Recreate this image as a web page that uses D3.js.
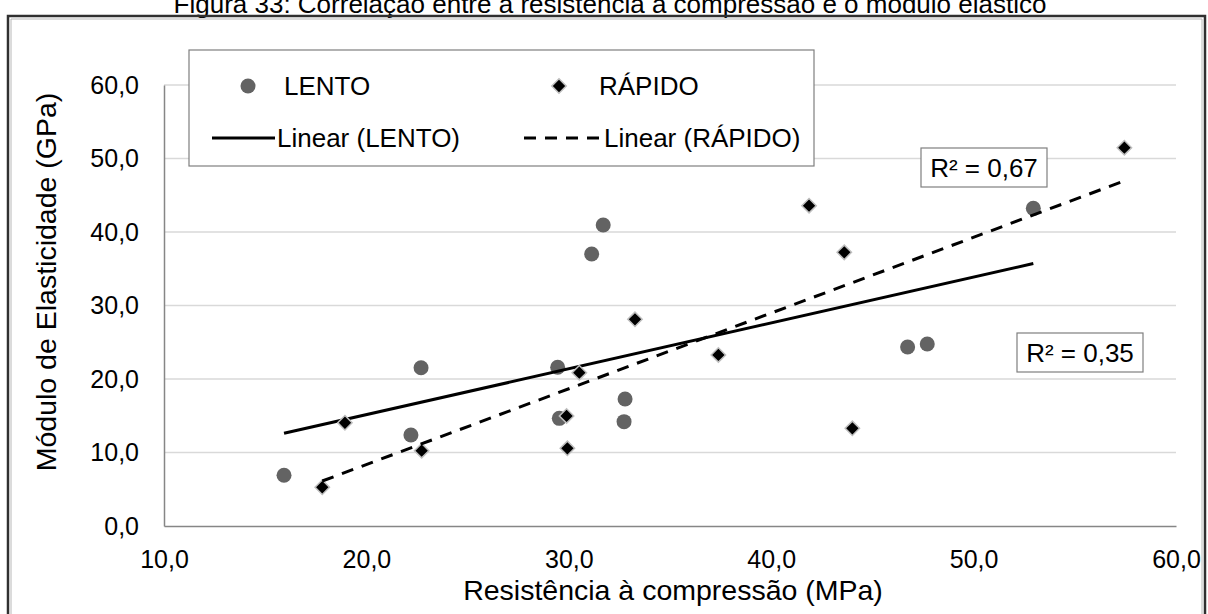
<!DOCTYPE html>
<html>
<head>
<meta charset="utf-8">
<script src="https://cdn.jsdelivr.net/npm/d3@7"></script>
<style>
body { margin: 0; background: #fff; }
svg { display: block; font-family: "Liberation Sans", Arial, sans-serif; }
</style>
</head>
<body>
<svg width="1208" height="614"></svg>
<script>
// values
var lentoX = [15.93, 22.20, 22.70, 29.45, 29.53, 31.13, 31.70, 32.73, 32.78, 46.74, 47.71, 52.95];
var lentoY = [6.90, 12.38, 21.54, 21.59, 14.65, 37.00, 40.95, 14.20, 17.28, 24.35, 24.76, 43.22];
var rapidoX = [17.82, 18.94, 22.73, 29.89, 29.93, 30.52, 33.27, 37.39, 41.87, 43.61, 44.01, 57.45];
var rapidoY = [5.27, 14.05, 10.25, 14.97, 10.57, 20.86, 28.12, 23.27, 43.58, 37.23, 13.29, 51.47];
var xTicks = [10, 20, 30, 40, 50, 60];
var yTicks = [0, 10, 20, 30, 40, 50, 60];
var seriesNames = ["LENTO", "RÁPIDO"];
var trendNames = ["Linear (LENTO)", "Linear (RÁPIDO)"];
var r2Labels = ["R² = 0,67", "R² = 0,35"];
var title = "Figura 33: Correlação entre a resistência à compressão e o módulo elástico";
var xTitle = "Resistência à compressão (MPa)";
var yTitle = "Módulo de Elasticidade (GPa)";

var svg = d3.select("svg");
var x = d3.scaleLinear().domain([10, 60]).range([164, 1176]);
var y = d3.scaleLinear().domain([0, 60]).range([526, 85]);
var fmt = function(v){ return d3.format(".1f")(v).replace(".", ","); };

// title (cut at the top of the page) and chart frame
svg.append("text").attr("x", 610).attr("y", 13)
	.attr("text-anchor", "middle").attr("font-size", 26).attr("fill", "#000")
	.text(title);
svg.append("path").attr("d", "M8,630 V16 H1205 V630")
	.attr("fill", "none").attr("stroke", "#303030").attr("stroke-width", 2.5);
svg.append("path").attr("d", "M11,630 V19 H1202 V630")
	.attr("fill", "none").attr("stroke", "#b8b8b8").attr("stroke-width", 1);

// gridlines
svg.append("g").selectAll("line").data(yTicks.slice(1))
	.enter().append("line")
	.attr("x1", x(10)).attr("x2", x(60))
	.attr("y1", function(d){ return y(d); }).attr("y2", function(d){ return y(d); })
	.attr("stroke", "#d9d9d9").attr("stroke-width", 1.5);

// axes
var gx = svg.append("g").attr("transform", "translate(0," + y(0) + ")")
	.call(d3.axisBottom(x).tickValues(xTicks).tickFormat(fmt).tickSize(0).tickPadding(24));
var gy = svg.append("g").attr("transform", "translate(" + x(10) + ",0)")
	.call(d3.axisLeft(y).tickValues(yTicks).tickFormat(fmt).tickSize(0).tickPadding(25));
gx.select(".domain").attr("stroke", "#868686").attr("stroke-width", 1.5);
gy.select(".domain").attr("stroke", "#868686").attr("stroke-width", 1.5);
svg.selectAll(".tick text").attr("font-size", 25).attr("fill", "#000")
	.attr("font-family", "Liberation Sans, Arial, sans-serif");

svg.append("text").attr("x", (x(10) + x(60)) / 2 + 3).attr("y", 600)
	.attr("text-anchor", "middle").attr("font-size", 28.5).text(xTitle);
svg.append("text").attr("transform", "translate(56,282) rotate(-90)")
	.attr("text-anchor", "middle").attr("font-size", 28.5).text(yTitle);

// least squares trend line, drawn between the smallest and largest x
function fit(xs, ys){
	var mx = d3.mean(xs), my = d3.mean(ys), sxy = 0, sxx = 0;
	for(var i=0; i<xs.length; i++){
		sxy += (xs[i]-mx)*(ys[i]-my);
		sxx += (xs[i]-mx)*(xs[i]-mx);
	}
	var b = sxy/sxx, a = my - b*mx;
	var x0 = d3.min(xs), x1 = d3.max(xs);
	return [[x0, a + b*x0], [x1, a + b*x1]];
}

var line = d3.line().x(function(d){ return x(d[0]); }).y(function(d){ return y(d[1]); });
var diamond = d3.symbol().type(d3.symbolSquare).size(104);

function circles(g, xs, ys){
	g.selectAll("circle").data(d3.range(xs.length)).enter().append("circle")
		.attr("cx", function(i){ return x(xs[i]); })
		.attr("cy", function(i){ return y(ys[i]); })
		.attr("r", 7.5).attr("fill", "#636363");
}
function diamonds(g, xs, ys){
	g.selectAll("path").data(d3.range(xs.length)).enter().append("path")
		.attr("d", diamond)
		.attr("transform", function(i){ return "translate(" + x(xs[i]) + "," + y(ys[i]) + ") rotate(45)"; })
		.attr("fill", "#000").attr("stroke", "#bfbfbf").attr("stroke-width", 1.5);
}

circles(svg.append("g"), lentoX, lentoY);
svg.append("path").attr("d", line(fit(lentoX, lentoY)))
	.attr("fill", "none").attr("stroke", "#000").attr("stroke-width", 3);
diamonds(svg.append("g"), rapidoX, rapidoY);
svg.append("path").attr("d", line(fit(rapidoX, rapidoY)))
	.attr("fill", "none").attr("stroke", "#000").attr("stroke-width", 3)
	.attr("stroke-dasharray", "12,9");

// legend
var lg = svg.append("g");
lg.append("rect").attr("x", 189).attr("y", 50).attr("width", 625).attr("height", 116)
	.attr("fill", "#fff").attr("stroke", "#7f7f7f").attr("stroke-width", 1.2);
lg.append("circle").attr("cx", 248).attr("cy", 86).attr("r", 7.5).attr("fill", "#636363");
lg.append("path").attr("d", diamond).attr("transform", "translate(559,86) rotate(45)")
	.attr("fill", "#000").attr("stroke", "#bfbfbf").attr("stroke-width", 1.5);
lg.append("line").attr("x1", 212).attr("x2", 275).attr("y1", 138).attr("y2", 138)
	.attr("stroke", "#000").attr("stroke-width", 3);
lg.append("line").attr("x1", 524).attr("x2", 602).attr("y1", 138).attr("y2", 138)
	.attr("stroke", "#000").attr("stroke-width", 3).attr("stroke-dasharray", "12,9");
lg.append("text").attr("x", 284).attr("y", 95).attr("font-size", 26).text(seriesNames[0]);
lg.append("text").attr("x", 599).attr("y", 95).attr("font-size", 26).text(seriesNames[1]);
lg.append("text").attr("x", 277).attr("y", 147).attr("font-size", 26).text(trendNames[0]);
lg.append("text").attr("x", 604).attr("y", 147).attr("font-size", 26).text(trendNames[1]);

// R² labels
var r2Pos = [[921, 148], [1017, 333]];
r2Pos.forEach(function(p, i){
	svg.append("rect").attr("x", p[0]).attr("y", p[1]).attr("width", 126).attr("height", 39)
		.attr("fill", "#fff").attr("stroke", "#7f7f7f").attr("stroke-width", 1.2);
	svg.append("text").attr("x", p[0] + 63).attr("y", p[1] + 29)
		.attr("text-anchor", "middle").attr("font-size", 26).text(r2Labels[i]);
});
</script>
</body>
</html>
